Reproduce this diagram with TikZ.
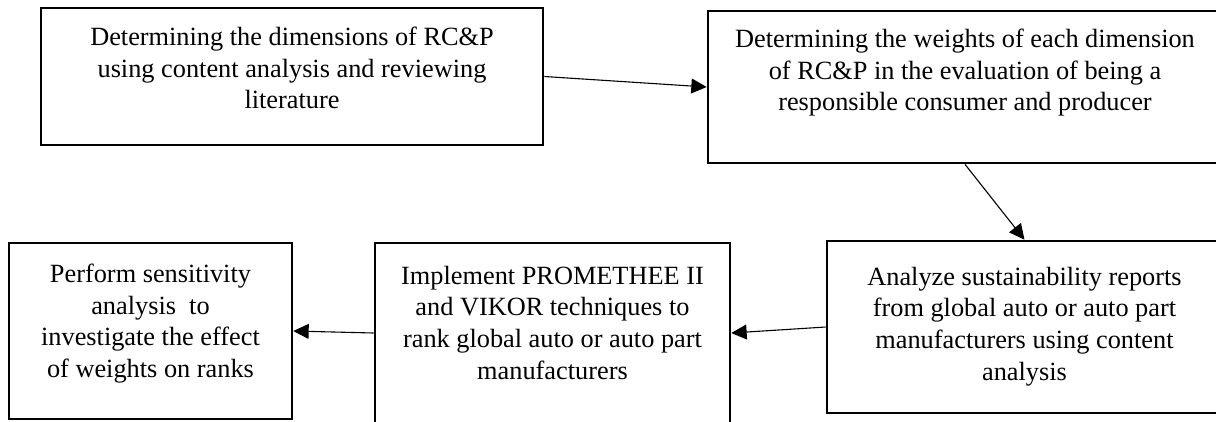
\documentclass[tikz,border=0pt]{standalone}
\usepackage{fontspec}
\setmainfont{Liberation Serif}
\usetikzlibrary{arrows.meta,positioning,fit}

\begin{document}
\begin{tikzpicture}[x=0.456pt, y=-0.456pt,
    box/.style={draw, line width=1.2pt, inner sep=0pt},
    txt/.style={align=center, inner sep=0pt, font=\fontsize{12}{14.4}\selectfont},
    flow/.style={line width=0.5pt, -{Triangle[length=7pt,width=6.8pt]}}]
        % frame of the figure (boxes run past the right and bottom edges)
        \useasboundingbox (0,0) rectangle (1216,421);
        \clip (0,0) rectangle (1216,421);
        % Boxes
        \node[box, fit={(41,8) (543,145)}] (dims) {};
        \node[box, fit={(708,11) (1222,163)}] (weights) {};
        \node[box, fit={(827,241) (1222,413)}] (reports) {};
        \node[box, fit={(375,243) (730,423)}] (ranking) {};
        \node[box, fit={(9,243) (292,419)}] (sensitivity) {};
        % Texts, set at the top of each box
        \node[txt, below=9.1pt of dims.north] (dimsText)
          {Determining the dimensions of RC\&P\\ using content analysis and reviewing\\ literature};
        \node[txt, below=8.7pt of weights.north] (weightsText)
          {Determining the weights of each dimension\\ of RC\&P in the evaluation of being a\\ responsible consumer and producer};
        \node[txt, below=12.3pt of reports.north] (reportsText)
          {Analyze sustainability reports\\ from global auto or auto part\\ manufacturers using content\\ analysis};
        \node[txt, below=10.9pt of ranking.north] (rankingText)
          {Implement PROMETHEE II\\ and VIKOR techniques to\\ rank global auto or auto part\\ manufacturers};
        \node[txt, below=10pt of sensitivity.north] (sensitivityText)
          {Perform sensitivity\\ analysis\ \ to\\ investigate the effect\\ of weights on ranks};
        % Arrows
        \draw[flow] (dims.east) -- (weights.west);
        \draw[flow] (weights.south) -- (reports.north);
        \draw[flow] (reports.west) -- (ranking.east);
        \draw[flow] (ranking.west) -- (sensitivity.east);
      \end{tikzpicture}
\end{document}
